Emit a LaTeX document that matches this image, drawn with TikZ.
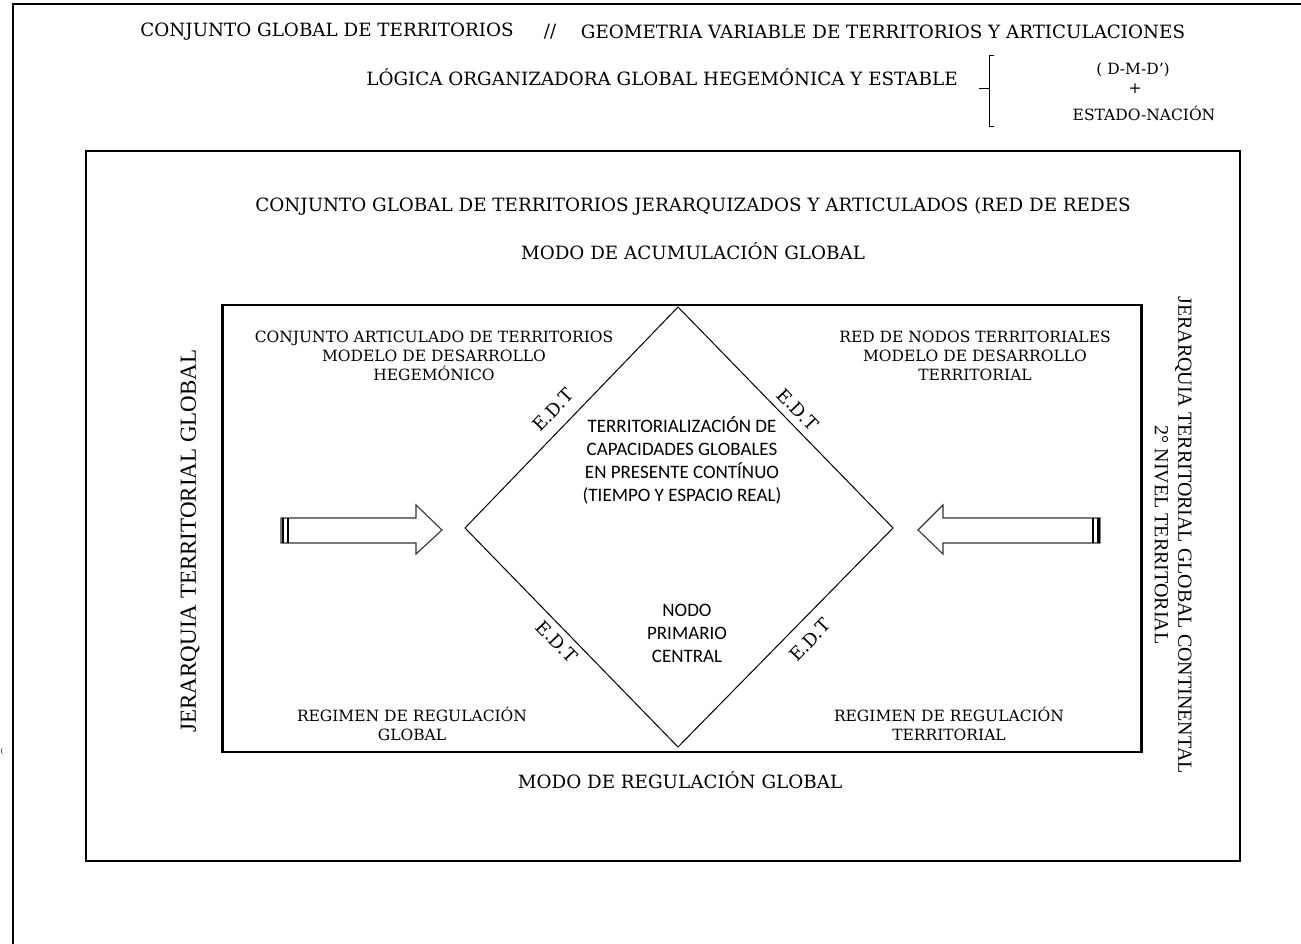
\documentclass[tikz,border=0pt]{standalone}
\usepackage{fontspec}
\newfontfamily\serf{DejaVu Serif}
\newfontfamily\timf{Liberation Serif}
\newfontfamily\calf{Carlito}
\tikzset{
  frame/.style={line width=2.4pt, black},
  thin/.style={line width=1pt, black},
  arr/.style={line width=1.1pt, black!80, fill=white, line join=miter},
  big/.style={font=\serf\fontsize{18.3}{21}\selectfont, text=black, inner sep=0pt},
  med/.style={font=\serf\fontsize{15.5}{18.8}\selectfont, text=black, inner sep=0pt, align=center},
  sans/.style={font=\calf\fontsize{19}{23}\selectfont, text=black, inner sep=0pt, align=center},
  vtl/.style={font=\timf\fontsize{23}{26}\selectfont, text=black, inner sep=0pt},
  vtr/.style={font=\timf\fontsize{20}{23.5}\selectfont, text=black, inner sep=0pt, align=center},
  edt/.style={font=\serf\fontsize{18}{20}\selectfont, text=black, inner sep=0pt},
}
\begin{document}
\begin{tikzpicture}[x=1pt,y=-1pt]
\useasboundingbox (0,0) rectangle (1301,944);
\fill[white] (0,0) rectangle (1301,944);
% outer page frame
\coordinate (ftr) at (1301,4);
\coordinate (ftl) at (13,4);
\coordinate (fbl) at (13,944);
\draw[frame] (ftr) -- (ftl) -- (fbl);
\node[font=\serf\fontsize{7}{8}\selectfont, inner sep=0pt] (stray) at (2,751) {(};

% header
\node[big] (t1a) at (327,32) {CONJUNTO GLOBAL DE TERRITORIOS};
\node[big] (t1b) at (550,32) {//};
\node[big] (t1c) at (883,32) {GEOMETRIA VARIABLE DE TERRITORIOS Y ARTICULACIONES};
\node[big] (t2) at (662,77) {LÓGICA ORGANIZADORA GLOBAL HEGEMÓNICA Y ESTABLE};
\coordinate (bt) at (989,56);
\coordinate (bb) at (989,127);
\coordinate (bm) at (989,89);
\draw[thin] ([xshift=5pt]bt) -- (bt) -- (bb) -- ([xshift=5pt]bb);
\draw[thin] (bm) -- ([xshift=-10pt]bm);
\node[med] (dmd) at (1133,70) {( D-M-D’)};
\node[med] (plus) at (1135,89) {+};
\node[med] (en) at (1144,113) {ESTADO-NACIÓN};

% middle box
\node[draw, frame, minimum width=1154pt, minimum height=710pt, inner sep=0pt] (mbox) at (663,506) {};
\node[big] (cg) at (693,206) {CONJUNTO GLOBAL DE TERRITORIOS JERARQUIZADOS Y ARTICULADOS (RED DE REDES};
\node[big] (mac) at (693,251) {MODO DE ACUMULACIÓN GLOBAL};
\node[big] (mrg) at (680,780) {MODO DE REGULACIÓN GLOBAL};
\node[vtl, rotate=90] (jtg) at (190,541) {JERARQUIA TERRITORIAL GLOBAL};
\node[vtr, rotate=-90] (jtgc) at (1173,535) {JERARQUIA TERRITORIAL GLOBAL CONTINENTAL\\2° NIVEL TERRITORIAL};

% inner box
\node[draw, frame, minimum width=919pt, minimum height=447pt, inner sep=0pt] (ibox) at (682,528.5) {};
\node[med] (cat) at (434,356) {CONJUNTO ARTICULADO DE TERRITORIOS\\MODELO DE DESARROLLO\\HEGEMÓNICO};
\node[med] (rnt) at (975,356) {RED DE NODOS TERRITORIALES\\MODELO DE DESARROLLO\\TERRITORIAL};
\node[med] (rrg) at (412,724) {REGIMEN DE REGULACIÓN\\GLOBAL};
\node[med] (rrt) at (949,724) {REGIMEN DE REGULACIÓN\\TERRITORIAL};

% diamond
\coordinate (dt) at (678,307);
\coordinate (dr) at (893,528);
\coordinate (db) at (678,747);
\coordinate (dl) at (465,528);
\draw[thin] (dt) -- (dr) -- (db) -- (dl) -- cycle;
\node[sans] (terr) at (682,460) {TERRITORIALIZACIÓN DE\\CAPACIDADES GLOBALES\\EN PRESENTE CONTÍNUO\\(TIEMPO Y ESPACIO REAL)};
\node[sans] (npc) at (687,633) {NODO\\PRIMARIO\\CENTRAL};
\node[edt, rotate=46] (e1) at (553,410) {E.D.T};
\node[edt, rotate=-46] (e2) at (798,410) {E.D.T};
\node[edt, rotate=-46] (e3) at (557,642) {E.D.T};
\node[edt, rotate=46] (e4) at (810,640) {E.D.T};

% arrows
\draw[arr] (281,518) -- (416,518) -- (416,505) -- (442,530) -- (416,554) -- (416,543) -- (281,543) -- cycle;
\draw[line width=2pt] (282.5,518) -- (282.5,543);
\draw[line width=2.2pt] (288,518) -- (288,543);
\draw[arr] (1100,518) -- (943,518) -- (943,505) -- (918,530) -- (943,554) -- (943,543) -- (1100,543) -- cycle;
\draw[line width=1.6pt] (1093,518) -- (1093,543);
\draw[line width=2.4pt] (1098.5,518) -- (1098.5,543);
\end{tikzpicture}
\end{document}
